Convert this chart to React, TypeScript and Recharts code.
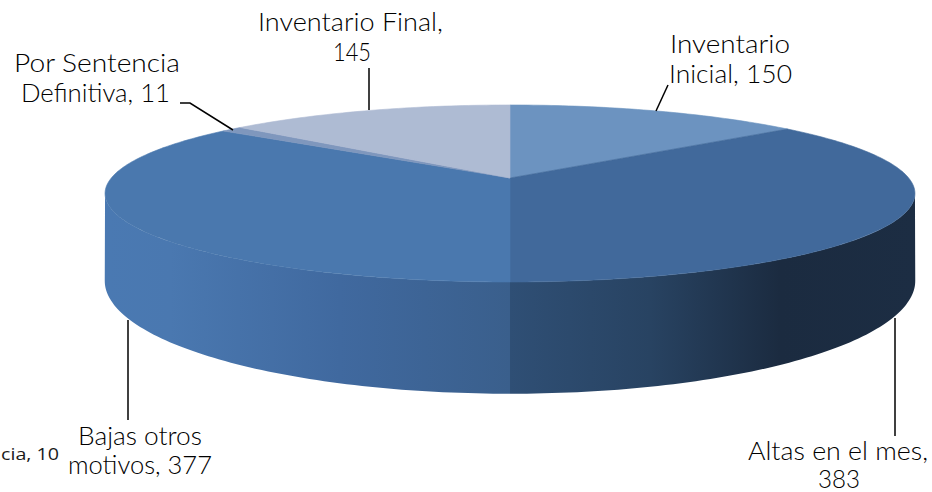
import React from "react";
import { PieChart, Pie } from "recharts";

const categories = [
  "Inventario Inicial",
  "Altas en el mes",
  "Bajas otros motivos",
  "Por Sentencia Definitiva",
  "Inventario Final",
];
const values = [150, 383, 377, 11, 145];
const faceColors = ["#6c93c0", "#41699b", "#4a78ae", "#7f97bd", "#aebbd3"];
// a label at the page's left edge: only this part of it shows in the picture
const strayLabel = "cia, 10";

const W = 932;
const H = 492;
const CX = 510;
const CY = 178;
const K = 0.175;
// perspective of the top face and of the lower rim
const TOP = { x: CX, y: CY, a: 398.7, b: 85.8 };
const LOW = { x: CX, y: 261, a: 399, b: 109.5 };

type Plane = { x: number; y: number; a: number; b: number };
const project = (p: Plane, deg: number) => {
  const t = (deg * Math.PI) / 180;
  const X = Math.sin(t);
  const Y = -Math.cos(t);
  const w = 1 - K * Y;
  return [p.x + (p.a * X) / w, p.y + (p.b * Y) / w];
};
const arc = (p: Plane, from: number, to: number) => {
  const n = Math.max(1, Math.ceil(Math.abs(to - from)));
  const pts: string[] = [];
  for (let i = 0; i <= n; i++) {
    const [x, y] = project(p, from + ((to - from) * i) / n);
    pts.push(`${x.toFixed(2)} ${y.toFixed(2)}`);
  }
  return pts;
};

const wallStops: Record<number, [number, string][]> = {
  1: [
    [510, "#2f4f75"],
    [650, "#284362"],
    [780, "#1b2b40"],
    [915, "#1c2d43"],
  ],
  2: [
    [105, "#4a79b2"],
    [170, "#4a78b0"],
    [340, "#40699f"],
    [510, "#3a5f8c"],
  ],
};
const WALL_FROM = 100;
const WALL_TO = 260;

const Slice3D = (props: any) => {
  const { startAngle, endAngle, fill, index } = props;
  const from = 90 - startAngle;
  const to = 90 - endAngle;
  const wf = Math.max(from, WALL_FROM);
  const wt = Math.min(to, WALL_TO);
  const stops = wallStops[index];
  const face = `M${CX} ${CY}L${arc(TOP, from, to).join("L")}Z`;
  return (
    <g>
      {stops && wt > wf ? (
        <>
          <defs>
            <linearGradient
              id={`wall-${index}`}
              gradientUnits="userSpaceOnUse"
              x1={stops[0][0]}
              x2={stops[stops.length - 1][0]}
              y1={0}
              y2={0}
            >
              {stops.map(([x, c]) => (
                <stop
                  key={x}
                  offset={(x - stops[0][0]) / (stops[stops.length - 1][0] - stops[0][0])}
                  stopColor={c}
                />
              ))}
            </linearGradient>
          </defs>
          <path
            d={`M${arc(TOP, wf, wt).join("L")}L${arc(LOW, wt, wf).join("L")}Z`}
            fill={`url(#wall-${index})`}
          />
        </>
      ) : null}
      <path d={face} fill={fill} stroke={fill} strokeWidth={0.6} />
    </g>
  );
};

// per category: word count on each text line, extents and leader
const labelLayout: {
  words: number[];
  rows: { x0: number; x1: number; y: number }[];
  leader: string;
}[] = [
  {
    words: [1, 2],
    rows: [
      { x0: 670, x1: 790, y: 53 },
      { x0: 669, x1: 792, y: 83 },
    ],
    leader: "M668 85L656 111",
  },
  {
    words: [4, 1],
    rows: [
      { x0: 748, x1: 928, y: 460 },
      { x0: 818, x1: 860, y: 488 },
    ],
    leader: "M895 318L895 436",
  },
  {
    words: [2, 2],
    rows: [
      { x0: 78, x1: 202, y: 445 },
      { x0: 68, x1: 212, y: 474 },
    ],
    leader: "M128 320L128 420",
  },
  {
    words: [2, 2],
    rows: [
      { x0: 14, x1: 180, y: 72 },
      { x0: 21, x1: 170, y: 102 },
    ],
    leader: "M180 103L190 103L233 130",
  },
  {
    words: [2, 1],
    rows: [
      { x0: 258, x1: 443, y: 31 },
      { x0: 333, x1: 371, y: 61 },
    ],
    leader: "M369 68L369 110",
  },
];

const renderLabel = (props: any) => {
  const i: number = props.index;
  const layout = labelLayout[i];
  const words = `${categories[i]}, ${values[i]}`.split(" ");
  let pos = 0;
  return (
    <g key={i}>
      <path d={layout.leader} fill="none" stroke="#000" strokeWidth={1.5} />
      {layout.rows.map((r, k) => {
        const text = words.slice(pos, pos + layout.words[k]).join(" ");
        pos += layout.words[k];
        return (
          <text
            key={k}
            x={r.x0}
            y={r.y}
            textLength={r.x1 - r.x0}
            lengthAdjust="spacingAndGlyphs"
            fontFamily="Lato, sans-serif"
            fontWeight={300}
            fontSize={25}
            fill="#000"
          >
            {text}
          </text>
        );
      })}
      {i === 2 ? (
        <text
          x={1}
          y={460}
          textLength={58}
          lengthAdjust="spacingAndGlyphs"
          fontFamily="'Open Sans', sans-serif"
          fontSize={17}
          fill="#1a1a1a"
        >
          {strayLabel}
        </text>
      ) : null}
    </g>
  );
};

const tableData = categories.map((name, i) => ({
  name,
  value: values[i],
  fill: faceColors[i],
}));

export default function App() {
  return (
    <div style={{ position: "absolute", left: 0, top: 0, width: W, height: H, background: "#fff" }}>
      <PieChart width={W} height={H} margin={{ top: 0, right: 0, bottom: 0, left: 0 }}>
        <Pie
          data={tableData}
          dataKey="value"
          nameKey="name"
          cx={CX}
          cy={CY}
          outerRadius={405}
          startAngle={90}
          endAngle={-270}
          stroke="none"
          isAnimationActive={false}
          shape={Slice3D}
          inactiveShape={Slice3D}
          activeShape={Slice3D}
          label={renderLabel}
          labelLine={false}
        />
      </PieChart>
    </div>
  );
}
